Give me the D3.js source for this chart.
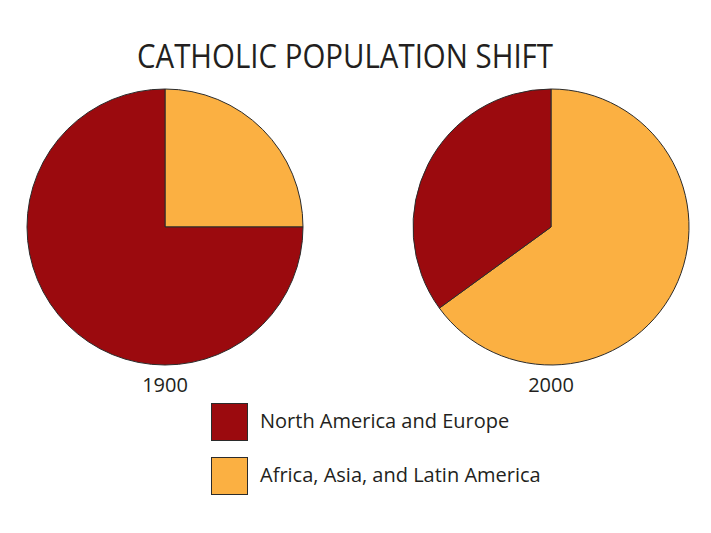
<!DOCTYPE html>
<html><head><meta charset="utf-8">
<script src="https://cdn.jsdelivr.net/npm/d3@7"></script>
<style>body{margin:0;background:#fff}svg{display:block}</style>
</head><body>
<script>
const title = "CATHOLIC POPULATION SHIFT";
const categories = ["North America and Europe", "Africa, Asia, and Latin America"];
const years = ["1900", "2000"];
const values1900 = [75, 25];
const values2000 = [35, 65];
const colors = ["#9B0A0E", "#FBB042"];

const W = 711, H = 533;
const svg = d3.select("body").append("svg").attr("width", W).attr("height", H);
const font = "'Open Sans', sans-serif";

svg.append("text").attr("x", 345).attr("y", 68).attr("text-anchor", "middle")
  .attr("font-family", font).attr("font-size", 33).attr("fill", "#231f20")
  .attr("textLength", 416).attr("lengthAdjust", "spacingAndGlyphs").text(title);

const color = d3.scaleOrdinal().domain(categories).range(colors);
const R = 138;
const arc = d3.arc().innerRadius(0).outerRadius(R);
const centers = [165, 551];
[values1900, values2000].forEach((vals, i) => {
  const data = categories.map((c, j) => ({c, v: vals[j]}));
  // orange starts at 12 o'clock going clockwise, red fills the rest
  const p = d3.pie().sort(null).value(d => d.v).startAngle(0).endAngle(2*Math.PI);
  const ordered = [data[1], data[0]];
  const g = svg.append("g").attr("transform", `translate(${centers[i]},227)`);
  g.selectAll("path").data(p(ordered)).join("path")
    .attr("d", arc).attr("fill", d => color(d.data.c))
    .attr("stroke", "#2b2b2b").attr("stroke-width", 1);
  svg.append("text").attr("x", centers[i]).attr("y", 392).attr("text-anchor", "middle")
    .attr("font-family", font).attr("font-size", 20).attr("fill", "#231f20").text(years[i]);
});

const lg = svg.append("g");
categories.forEach((c, j) => {
  const y = 403 + j * 54;
  lg.append("rect").attr("x", 211.5).attr("y", y + 0.5).attr("width", 36).attr("height", 37)
    .attr("fill", color(c)).attr("stroke", "#2b2b2b").attr("stroke-width", 1);
  lg.append("text").attr("x", 260).attr("y", y + 25).attr("font-family", font)
    .attr("font-size", 20).attr("fill", "#231f20").text(c);
});
</script>
</body></html>
